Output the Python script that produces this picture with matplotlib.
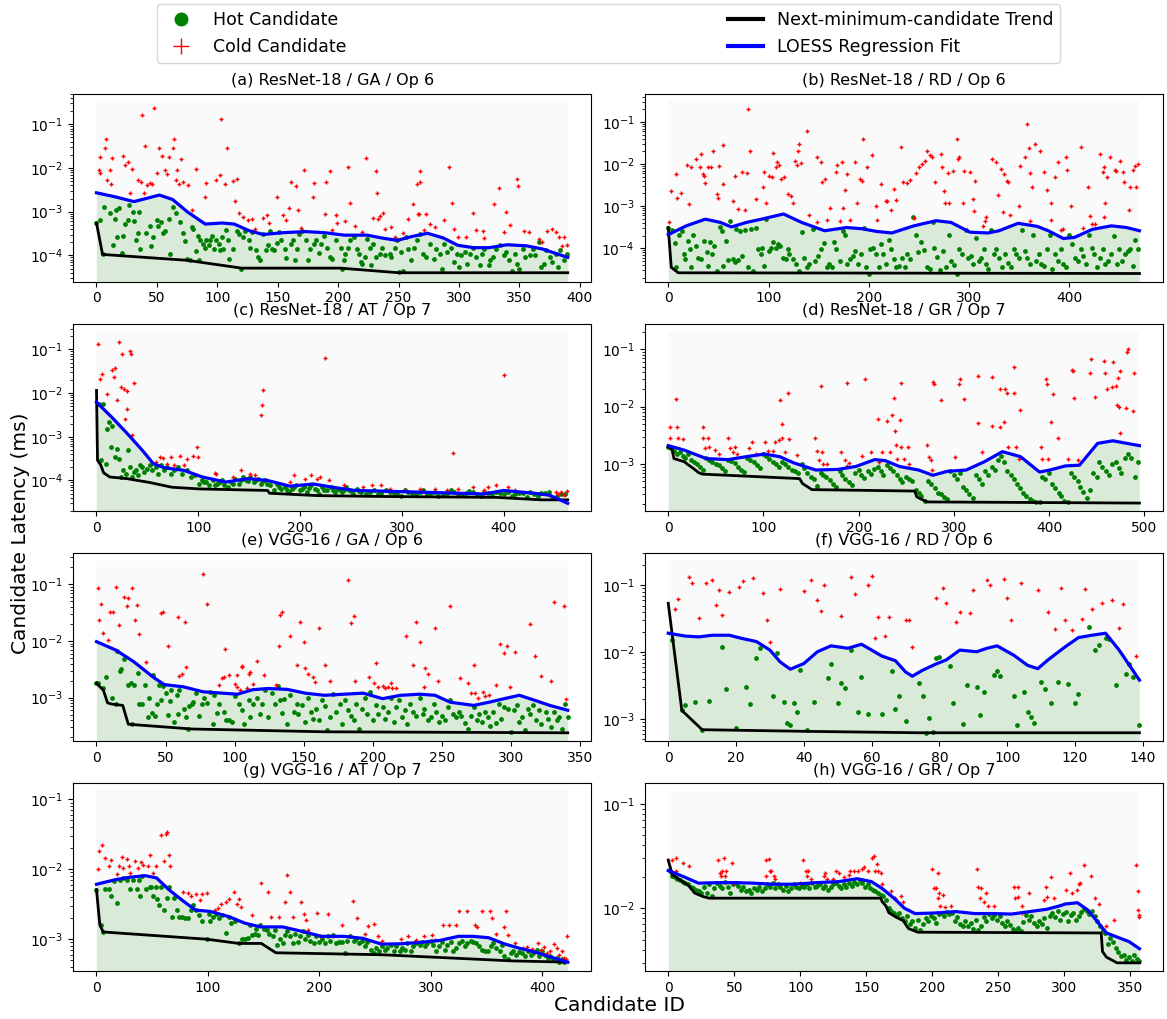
import numpy as np
import matplotlib.pyplot as plt
from matplotlib.lines import Line2D

# Valores: pares (candidate id, latencia en ms)

# (a) ResNet-18 / GA / Op 6
a_hot = [(0, 5.5e-4), (3, 6.5e-4), (5, 1.05e-4), (6, 1.3e-3), (11, 9.5e-4), (14, 1.7e-4), (15, 6.7e-4), (16, 1.1e-3),
         (17, 2.7e-4), (19, 1.2e-3), (21, 1.15e-4), (22, 2.8e-4), (24, 5.2e-4), (26, 6.3e-4), (27, 1.4e-3), (30, 1.0e-3),
         (31, 6e-4), (33, 2.3e-4), (34, 3.3e-4), (35, 1.0e-3), (36, 1.4e-4), (41, 3.3e-4), (44, 4.6e-4), (45, 1.6e-4),
         (47, 2.7e-4), (50, 6.5e-4), (51, 4.8e-4), (53, 5.8e-4), (55, 3.3e-4), (57, 3.7e-4), (60, 6.9e-4), (61, 1.05e-4),
         (63, 1.3e-3), (66, 9.3e-4), (69, 5.8e-4), (72, 3.2e-4), (73, 2.1e-4), (75, 8.3e-5), (77, 7.9e-5), (79, 4.5e-4),
         (80, 4.1e-4), (82, 1.25e-4), (84, 2.8e-4), (85, 7.9e-5), (86, 2.2e-4), (88, 1.8e-4), (90, 1.5e-4), (91, 2.3e-4),
         (93, 1.7e-4), (94, 2.2e-4), (96, 2.8e-4), (97, 1.4e-4), (99, 2.2e-4), (101, 1.8e-4), (102, 1.3e-4), (104, 2.6e-4),
         (105, 1.4e-4), (107, 3.9e-4), (109, 2.2e-4), (110, 8.3e-5), (113, 1.4e-4), (116, 3.7e-4), (118, 3.1e-4), (120, 5e-5),
         (121, 2.6e-4), (123, 3.7e-4), (126, 2.2e-4), (127, 1.5e-4), (129, 3.4e-4), (132, 1.3e-4), (134, 9.3e-5), (135, 7.9e-5),
         (138, 3.1e-4), (140, 1.3e-4), (142, 1.7e-4), (144, 3.7e-4), (145, 1.4e-4), (147, 1.3e-4), (149, 1.9e-4), (151, 3.4e-4),
         (153, 2.2e-4), (156, 1.4e-4), (157, 8.9e-5), (161, 1.8e-4), (163, 2.2e-4), (164, 7.9e-5), (166, 1.4e-4), (168, 3.1e-4),
         (170, 3.7e-4), (173, 2.2e-4), (175, 8e-5), (177, 1.4e-4), (180, 1.8e-4), (182, 2.2e-4), (184, 1.15e-4), (186, 1.8e-4),
         (188, 2.8e-4), (191, 1.5e-4), (193, 9.3e-5), (195, 8.3e-5), (198, 2.2e-4), (202, 1.5e-4), (203, 5e-5), (205, 7.9e-5),
         (206, 1.1e-4), (208, 1.5e-4), (210, 2.2e-4), (213, 2.6e-4), (216, 1.4e-4), (217, 1.1e-4), (219, 7.1e-5), (220, 6.5e-5),
         (222, 9.3e-5), (224, 2.4e-4), (226, 1.5e-4), (227, 6e-5), (229, 1.8e-4), (231, 9.3e-5), (235, 1.1e-4), (236, 1.5e-4),
         (239, 1.0e-4), (243, 1.1e-4), (244, 9.3e-5), (247, 1.5e-4), (249, 2.2e-4), (250, 4.1e-5), (252, 1.2e-4), (254, 4.5e-5),
         (256, 2.7e-4), (258, 1.4e-4), (260, 7.7e-5), (263, 1.5e-4), (265, 2.2e-4), (268, 3.1e-4), (270, 1.1e-4), (273, 9.3e-5),
         (276, 1.8e-4), (279, 8.3e-5), (281, 1.4e-4), (284, 1.1e-4), (286, 5e-5), (288, 1.8e-4), (290, 1.2e-4), (293, 1.5e-4),
         (296, 7.1e-5), (298, 1.1e-4), (300, 5.4e-5), (302, 1.0e-4), (305, 1.2e-4), (307, 6.5e-5), (309, 1.1e-4), (312, 1.5e-4),
         (314, 9.3e-5), (317, 6e-5), (319, 1.1e-4), (321, 1.4e-4), (325, 6e-5), (326, 7.7e-5), (328, 9.3e-5), (331, 1.4e-4),
         (334, 1.7e-4), (337, 1.0e-4), (339, 1.2e-4), (341, 7.7e-5), (344, 4.5e-5), (346, 1.1e-4), (348, 6.5e-5), (350, 5e-5),
         (353, 1.4e-4), (355, 9.3e-5), (359, 1.0e-4), (361, 1.4e-4), (363, 1.0e-4), (366, 2.0e-4), (368, 5.4e-5), (370, 6.5e-5),
         (372, 1.3e-4), (375, 9.3e-5), (377, 7.1e-5), (380, 1.1e-4), (382, 5.4e-5), (384, 1.3e-4), (387, 7.7e-5), (389, 1.1e-4)]
a_cold = [(2, 9.1e-3), (3, 7.7e-3), (3, 1.8e-2), (7, 2.9e-2), (8, 4.7e-2), (9, 5.2e-3), (11, 9.1e-3), (12, 4.4e-3),
          (13, 1.7e-2), (22, 1.85e-2), (24, 1.2e-2), (26, 1.4e-2), (28, 2.7e-3), (29, 9.7e-3), (34, 5.2e-3), (37, 4.8e-3),
          (38, 1.6e-1), (39, 2.7e-3), (40, 3.2e-2), (42, 4e-3), (44, 4.5e-3), (46, 4.4e-3), (48, 0.23), (50, 7.6e-3),
          (52, 2.9e-2), (54, 1.85e-2), (57, 8.8e-3), (58, 7.4e-3), (60, 1.8e-2), (63, 2.9e-2), (64, 4.7e-2), (66, 5.2e-3),
          (67, 9.1e-3), (68, 4.4e-3), (70, 1.6e-2), (72, 4.8e-3), (76, 4e-3), (79, 1.1e-3), (82, 9.7e-3), (90, 2.2e-3),
          (91, 4.5e-3), (99, 5.2e-3), (102, 6.8e-3), (103, 0.13), (106, 4.2e-3), (108, 2.9e-2), (113, 5e-3), (115, 1.8e-3),
          (116, 5.7e-3), (118, 9.5e-4), (121, 7.5e-4), (125, 6.3e-4), (129, 6.7e-4), (131, 4.1e-4), (138, 7.2e-4), (141, 8.3e-4),
          (143, 5.5e-4), (149, 2.2e-3), (154, 8.3e-4), (157, 6.3e-4), (159, 1.2e-3), (161, 4.8e-3), (165, 3.9e-3), (167, 1.1e-3),
          (169, 4.2e-4), (172, 8.8e-3), (179, 2.2e-3), (180, 4.5e-3), (189, 9e-4), (190, 4.8e-3), (193, 8.6e-3), (195, 3.9e-4),
          (198, 8.3e-4), (199, 5.5e-4), (206, 6e-4), (208, 1.05e-2), (210, 1.6e-3), (214, 4.6e-4), (220, 3.4e-4), (223, 1.7e-2),
          (229, 7.2e-4), (231, 8.4e-3), (232, 2.7e-3), (233, 6.9e-4), (235, 7.8e-4), (237, 9.5e-4), (239, 4.1e-4), (244, 4.5e-4),
          (247, 2.7e-4), (254, 3.2e-4), (258, 6.7e-4), (262, 1.5e-3), (265, 4.2e-3), (266, 9e-4), (267, 9e-4), (268, 8.6e-3),
          (268, 4.8e-3), (271, 3.9e-4), (273, 8.7e-4), (276, 5.3e-4), (280, 4.5e-4), (288, 6.3e-4), (292, 1.05e-2), (294, 1.6e-3),
          (296, 4.1e-4), (299, 2.6e-4), (306, 2.6e-4), (312, 9.3e-4), (314, 3.9e-4), (320, 3.7e-4), (321, 2.5e-4), (329, 1.5e-3),
          (333, 3.5e-3), (337, 3.5e-4), (339, 1.0e-3), (342, 5e-4), (348, 5.7e-3), (349, 3.8e-3), (354, 3.7e-4), (358, 3.4e-4),
          (366, 2.4e-4), (369, 2e-4), (373, 3.7e-4), (377, 4.1e-4), (380, 3.4e-4), (383, 2.6e-4), (385, 1.6e-4), (387, 2.7e-4),
          (389, 1.7e-4)]
a_trend = [(0, 5.5e-4), (5, 1.05e-4), (75, 7.7e-5), (120, 5.1e-5), (202, 5.1e-5), (250, 4.0e-5), (390, 4.0e-5)]
a_loess = [(0, 2.7e-3), (15, 2.2e-3), (31, 1.7e-3), (41, 2.0e-3), (52, 2.4e-3), (63, 1.9e-3), (75, 1.0e-3), (90, 5.2e-4),
           (104, 5.5e-4), (114, 5.2e-4), (126, 3.7e-4), (138, 3.0e-4), (154, 3.3e-4), (173, 3.5e-4), (189, 3.3e-4),
           (205, 2.9e-4), (224, 2.9e-4), (236, 2.5e-4), (249, 2.2e-4), (261, 2.7e-4), (274, 3.2e-4), (287, 2.5e-4),
           (299, 1.7e-4), (312, 1.5e-4), (325, 1.5e-4), (340, 1.75e-4), (356, 1.65e-4), (369, 1.4e-4), (390, 9e-5)]

# (b) ResNet-18 / RD / Op 6
b_hot = [(0, 3.1e-4), (4, 2.7e-4), (7, 1.3e-4), (8, 3.5e-5), (11, 2.1e-4), (14, 2.6e-4), (16, 7.2e-5), (17, 5.5e-5),
         (20, 1.5e-4), (22, 9.5e-5), (23, 3.5e-5), (25, 2.1e-4), (28, 1.1e-4), (30, 6e-5), (33, 5.5e-5), (36, 1.5e-4),
         (39, 8e-5), (40, 3.7e-5), (42, 1.4e-4), (44, 7.2e-5), (46, 1.1e-4), (49, 2.9e-5), (52, 3.2e-4), (54, 2.6e-4),
         (55, 3.8e-5), (58, 1.5e-4), (60, 5.2e-5), (62, 4.5e-4), (65, 5.5e-5), (67, 4.7e-5), (68, 2.8e-4), (70, 5.3e-5),
         (72, 2.6e-4), (74, 6.6e-5), (77, 2.7e-4), (80, 3.5e-5), (83, 2.8e-4), (85, 2.9e-5), (88, 3.1e-4), (90, 9.5e-5),
         (93, 7.2e-5), (94, 1.0e-4), (96, 3.8e-5), (98, 4.9e-4), (100, 8.6e-5), (102, 1.0e-4), (104, 1.4e-4), (107, 1.0e-4),
         (109, 1.25e-4), (111, 1.1e-4), (114, 6e-5), (117, 5.5e-5), (119, 9.5e-5), (120, 7.2e-5), (124, 5.5e-5), (127, 4.2e-5),
         (130, 2.9e-5), (133, 2.4e-4), (135, 6e-5), (138, 3.5e-5), (140, 4.2e-5), (144, 2.8e-4), (146, 5e-5), (149, 6.6e-5),
         (152, 9.5e-5), (155, 1.3e-4), (158, 3.5e-5), (160, 4.2e-5), (163, 3.5e-5), (165, 1.4e-4), (167, 9.5e-5), (171, 5e-5),
         (174, 2.6e-4), (176, 2.1e-4), (178, 4.2e-5), (181, 5.5e-5), (184, 6.6e-5), (186, 8.6e-5), (189, 4.2e-5), (192, 7.2e-5),
         (195, 3.1e-4), (197, 3.5e-5), (200, 2.5e-5), (201, 9.5e-5), (204, 1.0e-4), (207, 7.2e-5), (210, 3.5e-5), (212, 1.25e-4),
         (214, 7.2e-5), (217, 4.2e-5), (220, 1.6e-4), (222, 9.5e-5), (225, 5.5e-5), (227, 3.5e-5), (230, 3.8e-5), (233, 6e-5),
         (236, 3.5e-5), (238, 7.2e-5), (241, 5.5e-5), (244, 5.4e-4), (247, 2.1e-4), (249, 7.9e-5), (252, 1.4e-4), (255, 9e-5),
         (258, 3.5e-5), (261, 3.2e-5), (264, 4.1e-4), (265, 1.0e-4), (268, 6.3e-5), (271, 3e-5), (274, 8.6e-5), (277, 3.5e-5),
         (280, 2.1e-4), (282, 5e-5), (285, 4e-5), (288, 2.4e-5), (290, 9.5e-5), (293, 7.2e-5), (297, 2.7e-4), (299, 6e-5),
         (302, 6.6e-5), (304, 4.2e-5), (307, 1.7e-4), (310, 5e-5), (312, 6e-5), (315, 9.5e-5), (317, 4.2e-5), (319, 3.2e-5),
         (322, 2.7e-4), (325, 7.2e-5), (327, 9.5e-5), (330, 6e-5), (333, 3.5e-5), (336, 7.2e-5), (339, 4.5e-5), (342, 3.5e-5),
         (345, 9.5e-5), (347, 7.2e-5), (350, 6e-5), (353, 2.7e-4), (356, 8.6e-5), (358, 6e-5), (361, 4.2e-5), (364, 2.1e-4),
         (367, 5e-5), (370, 7.2e-5), (372, 4.2e-5), (375, 3.8e-5), (378, 9.5e-5), (381, 2.1e-4), (383, 3.2e-5), (386, 7.2e-5),
         (389, 5e-5), (392, 9.5e-5), (394, 4.2e-5), (397, 3.5e-5), (400, 2.1e-4), (403, 1.25e-4), (406, 6e-5), (409, 5e-5),
         (412, 9.5e-5), (414, 6.6e-5), (417, 4.2e-5), (420, 2.1e-4), (423, 1.0e-4), (425, 7.2e-5), (428, 3.5e-5), (431, 6e-5),
         (434, 9.5e-5), (436, 4.2e-5), (439, 5e-5), (442, 7.2e-5), (445, 2e-4), (448, 4.2e-5), (450, 9.5e-5), (453, 5e-5),
         (456, 7.2e-5), (459, 8.6e-5), (461, 9.5e-5), (464, 3.8e-5), (466, 1.6e-4), (469, 9.5e-5)]
b_cold = [(1, 4.1e-4), (3, 2.3e-3), (8, 5.9e-3), (9, 1.6e-3), (13, 2.1e-3), (19, 9.7e-3), (21, 1.1e-3), (23, 8.7e-3),
          (28, 1.3e-2), (32, 8.7e-3), (33, 1.7e-2), (35, 5.9e-3), (36, 5.3e-3), (37, 3.5e-3), (40, 8.4e-3), (43, 8.4e-3),
          (45, 2.1e-2), (49, 1.9e-3), (50, 1.6e-3), (51, 9.2e-3), (55, 2.9e-2), (55, 3.4e-3), (65, 1.3e-3), (67, 5.3e-3),
          (70, 8.5e-4), (74, 6.4e-3), (77, 8e-4), (79, 6e-3), (80, 0.2), (82, 2e-2), (88, 1.5e-3), (95, 2.8e-3),
          (96, 6.4e-3), (98, 1.2e-3), (100, 5.3e-3), (103, 4.8e-3), (104, 1.8e-2), (107, 8.4e-3), (108, 1.1e-2), (110, 9.6e-3),
          (112, 4.5e-3), (115, 4.8e-3), (119, 1.9e-3), (122, 1.7e-3), (124, 1.2e-3), (126, 1.2e-2), (128, 9.6e-3), (129, 2.1e-2),
          (130, 3e-2), (132, 1.05e-2), (138, 0.06), (140, 6e-4), (148, 4.1e-4), (148, 1.5e-2), (152, 1.1e-2), (153, 3.7e-3),
          (156, 4.5e-3), (158, 4.7e-4), (161, 8.9e-4), (167, 6.6e-3), (168, 9.6e-3), (171, 4.4e-4), (173, 1.1e-2), (174, 8.9e-4),
          (176, 2.4e-3), (178, 5.9e-3), (181, 4.6e-4), (186, 1.1e-2), (188, 1.2e-3), (191, 4.3e-3), (193, 4e-3), (194, 4e-2),
          (198, 8.4e-3), (203, 1.6e-2), (207, 1e-3), (208, 4.7e-4), (212, 3.3e-3), (217, 1.3e-3), (218, 1.35e-3), (222, 8.2e-4),
          (225, 2.6e-3), (227, 1.4e-3), (232, 2.5e-2), (234, 3.7e-3), (238, 3.5e-3), (241, 4.2e-3), (245, 5.2e-4), (247, 6e-3),
          (250, 8.7e-3), (253, 1e-2), (256, 1.2e-2), (258, 2.1e-2), (261, 1.6e-2), (263, 1.5e-2), (266, 3.7e-3), (272, 1.7e-2),
          (273, 8.4e-3), (275, 2.3e-3), (276, 1.2e-3), (279, 6.2e-3), (280, 1.2e-3), (284, 6.8e-3), (288, 4e-2), (289, 1.3e-2),
          (290, 1.5e-2), (294, 1.2e-3), (295, 7e-3), (301, 6.4e-3), (304, 1.5e-3), (305, 7.8e-4), (306, 4e-3), (314, 3.3e-4),
          (316, 4.4e-4), (317, 5.6e-4), (323, 1.3e-2), (327, 1.1e-2), (329, 1.8e-3), (332, 7.7e-3), (334, 7.1e-4), (335, 5.9e-3),
          (338, 4e-3), (339, 3.7e-3), (341, 6e-4), (350, 1e-3), (351, 8.9e-3), (356, 1.5e-2), (358, 9e-2), (360, 2.4e-2),
          (361, 6.2e-3), (363, 2.8e-3), (361, 4.4e-4), (366, 3e-2), (371, 2e-2), (375, 6.4e-3), (378, 2.4e-3), (382, 1.2e-3),
          (382, 4.7e-4), (386, 5e-3), (389, 1.1e-2), (392, 2.7e-4), (394, 2.8e-4), (397, 1.5e-2), (398, 7.2e-3), (402, 1e-3),
          (412, 2.5e-2), (414, 3e-4), (419, 2.8e-3), (421, 5.8e-4), (423, 3.8e-4), (426, 3.8e-4), (431, 1.7e-2), (434, 6.4e-3),
          (435, 8.4e-3), (436, 1.2e-3), (438, 4.8e-3), (435, 5.4e-4), (441, 1.5e-2), (446, 7.4e-3), (447, 7e-3), (451, 1.2e-2),
          (454, 6.6e-3), (455, 3.8e-3), (460, 8e-4), (461, 2.8e-3), (464, 7.2e-3), (466, 9.2e-3), (467, 2.9e-3), (469, 1e-2)]
b_trend = [(0, 3.1e-4), (3, 3.5e-5), (10, 2.6e-5), (470, 2.5e-5)]
b_loess = [(0, 2.1e-4), (18, 3.4e-4), (37, 4.9e-4), (52, 4.1e-4), (63, 3.2e-4), (78, 4.1e-4), (93, 4.9e-4), (115, 6.5e-4),
           (133, 4.1e-4), (156, 2.6e-4), (178, 3.1e-4), (193, 2.9e-4), (208, 2.5e-4), (223, 2.3e-4), (245, 3.4e-4),
           (267, 4.5e-4), (282, 4.1e-4), (301, 2.4e-4), (319, 2.3e-4), (330, 2.6e-4), (349, 3.9e-4), (368, 3.3e-4),
           (379, 2.6e-4), (394, 1.7e-4), (405, 1.8e-4), (423, 2.8e-4), (442, 3.4e-4), (457, 3.1e-4), (470, 2.6e-4)]

# (c) ResNet-18 / AT / Op 7
c_hot = [(2, 5.5e-3), (4, 3e-4), (6, 5.5e-3), (9, 2.4e-4), (10, 1.5e-3), (12, 2.2e-3), (14, 5.8e-4), (15, 1.8e-3),
         (18, 3.4e-4), (20, 5.3e-4), (22, 3.1e-4), (24, 1.2e-4), (26, 1.7e-4), (29, 1.4e-4), (31, 4.9e-4), (33, 2e-4),
         (35, 1.2e-4), (37, 1.55e-4), (39, 1.75e-4), (41, 1.3e-4), (43, 2.3e-4), (45, 2e-4), (47, 1.55e-4), (50, 1.8e-4),
         (53, 2.3e-4), (55, 1.7e-4), (58, 2e-4), (60, 1.4e-4), (63, 2.2e-4), (66, 1.7e-4), (69, 2e-4), (73, 1.4e-4),
         (76, 1.7e-4), (80, 2e-4), (84, 1.4e-4), (89, 1.7e-4), (93, 1.2e-4), (97, 1.3e-4), (101, 8.3e-5), (104, 1e-4),
         (106, 9e-5), (108, 9.2e-5), (111, 7.7e-5), (114, 1e-4), (116, 8e-5), (118, 8.3e-5), (121, 9.2e-5), (123, 1e-4),
         (125, 7.7e-5), (129, 7e-5), (132, 9.2e-5), (134, 8.5e-5), (136, 1.1e-4), (140, 8.3e-5), (142, 1.05e-4), (144, 1.2e-4),
         (147, 1e-4), (149, 9.5e-5), (151, 1.2e-4), (155, 9.2e-5), (157, 1.05e-4), (159, 1.1e-4), (162, 8.3e-5), (164, 9.5e-5),
         (166, 1e-4), (168, 8.5e-5), (170, 7.7e-5), (174, 5.9e-5), (177, 8.3e-5), (179, 7.2e-5), (181, 6.4e-5), (185, 7e-5),
         (187, 6.2e-5), (189, 5.4e-5), (192, 6.4e-5), (194, 7e-5), (196, 7.7e-5), (200, 5.9e-5), (202, 6.5e-5), (204, 7e-5),
         (207, 5.4e-5), (209, 6.8e-5), (211, 7.7e-5), (215, 6.4e-5), (217, 6e-5), (219, 5e-5), (222, 7e-5), (224, 6.2e-5),
         (226, 5.9e-5), (230, 7e-5), (232, 6.2e-5), (234, 5.4e-5), (237, 6.4e-5), (239, 6e-5), (241, 5.4e-5), (243, 6.2e-5),
         (245, 7e-5), (248, 5.9e-5), (250, 5.6e-5), (252, 5e-5), (256, 6.4e-5), (258, 5.8e-5), (260, 5.4e-5), (265, 5e-5),
         (269, 5.4e-5), (273, 5.9e-5), (277, 4.8e-5), (280, 5.1e-5), (284, 5.9e-5), (288, 5.4e-5), (292, 5.1e-5), (295, 4.8e-5),
         (299, 4.5e-5), (303, 5.9e-5), (306, 5.4e-5), (310, 5.1e-5), (314, 4.8e-5), (318, 5.4e-5), (321, 5.9e-5), (325, 4.8e-5),
         (329, 5.1e-5), (333, 5.4e-5), (336, 4.5e-5), (340, 5e-5), (344, 5.1e-5), (348, 5.9e-5), (351, 5.4e-5), (355, 4.8e-5),
         (359, 5e-5), (363, 5.1e-5), (366, 5.7e-5), (370, 5.4e-5), (374, 4.8e-5), (378, 4.5e-5), (381, 5.4e-5), (385, 5.1e-5),
         (389, 4.8e-5), (393, 5.4e-5), (396, 5.1e-5), (400, 5e-5), (404, 5.4e-5), (408, 4.5e-5), (411, 4.8e-5), (415, 5.1e-5),
         (419, 5.1e-5), (423, 4.1e-5), (426, 5.4e-5), (430, 4.8e-5), (434, 4.5e-5), (437, 5.1e-5), (441, 5.1e-5), (445, 5.4e-5),
         (449, 4e-5), (452, 4.5e-5), (456, 4.8e-5), (460, 5e-5)]
c_cold = [(1, 0.13), (3, 2.1e-2), (5, 2.8e-2), (10, 9.6e-3), (15, 3.3e-2), (17, 2.3e-2), (18, 3.8e-2), (20, 7e-3),
          (22, 0.15), (24, 1.4e-2), (25, 8e-2), (27, 1.25e-2), (28, 2.6e-3), (30, 1.1e-2), (30, 4.4e-3), (33, 9e-2),
          (34, 8e-2), (35, 1.1e-3), (37, 1.7e-2), (58, 2.6e-4), (62, 3.4e-4), (65, 3.2e-4), (69, 2.4e-4), (73, 3.4e-4),
          (76, 2.2e-4), (82, 3.7e-4), (86, 2.2e-4), (89, 3.1e-4), (95, 3.7e-4), (99, 5.8e-4), (100, 3.4e-4), (116, 1.5e-4),
          (117, 1.4e-4), (134, 1.2e-4), (142, 1.7e-4), (151, 1.4e-4), (156, 1.3e-4), (162, 3.1e-3), (163, 5.2e-3), (164, 1.2e-2),
          (190, 9.2e-5), (194, 1.3e-4), (205, 1.1e-4), (211, 1.3e-4), (217, 1.1e-4), (220, 1.2e-4), (225, 6.3e-2), (228, 1e-4),
          (243, 7.7e-5), (262, 7e-5), (271, 7.7e-5), (280, 7.7e-5), (288, 6.4e-5), (303, 5.9e-5), (318, 6.4e-5), (333, 6.4e-5),
          (344, 6.1e-5), (350, 4.2e-4), (355, 6.4e-5), (370, 7e-5), (381, 6.2e-5), (385, 7.2e-5), (393, 7.7e-5), (400, 2.6e-2),
          (404, 7e-5), (411, 5.9e-5), (445, 4.6e-5), (451, 5.4e-5), (453, 5e-5), (456, 5.4e-5), (459, 4.6e-5), (462, 5.6e-5)]
c_trend = [(0, 1.15e-2), (1, 2.9e-4), (4, 2.3e-4), (7, 1.5e-4), (13, 1.2e-4), (30, 1.1e-4), (52, 9e-5), (74, 7e-5),
           (101, 6.4e-5), (168, 5.9e-5), (170, 5.1e-5), (217, 4.5e-5), (280, 4.3e-5), (393, 4.1e-5), (437, 3.6e-5),
           (463, 3.6e-5)]
c_loess = [(0, 6.2e-3), (15, 2.8e-3), (30, 1.2e-3), (45, 4.9e-4), (56, 2.4e-4), (67, 1.95e-4), (86, 1.7e-4), (104, 1.2e-4),
           (127, 9.2e-5), (149, 1.1e-4), (168, 1.0e-4), (190, 7.4e-5), (213, 8.3e-5), (232, 7e-5), (254, 5.9e-5),
           (280, 5.7e-5), (318, 5.4e-5), (355, 5.1e-5), (381, 4.9e-5), (400, 5.9e-5), (430, 5.1e-5), (445, 4.6e-5),
           (463, 3e-5)]

# (d) ResNet-18 / GR / Op 7
d_hot = [(0, 2e-3), (3, 1.9e-3), (6, 1.7e-3), (9, 1.5e-3), (12, 1.6e-3), (15, 1.4e-3), (18, 1.3e-3), (21, 1.5e-3),
         (24, 1.2e-3), (27, 1.1e-3), (30, 1.0e-3), (33, 9e-4), (36, 8e-4), (40, 1.3e-3), (43, 1.2e-3), (46, 1.1e-3),
         (50, 1.0e-3), (53, 9.5e-4), (56, 8.5e-4), (60, 7.5e-4), (63, 1.2e-3), (66, 1.15e-3), (70, 1.05e-3), (73, 9e-4),
         (76, 8e-4), (80, 7.2e-4), (83, 1.3e-3), (86, 1.2e-3), (90, 1.1e-3), (93, 9.5e-4), (96, 8.5e-4), (100, 1.5e-3),
         (103, 1.4e-3), (106, 1.25e-3), (110, 1.1e-3), (113, 1e-3), (116, 9e-4), (120, 1.1e-3), (123, 1.0e-3), (126, 9e-4),
         (130, 8e-4), (133, 7.5e-4), (136, 7e-4), (140, 1e-3), (143, 8.5e-4), (146, 7e-4), (150, 6e-4), (153, 5.5e-4),
         (156, 4.2e-4), (160, 7e-4), (163, 6.5e-4), (166, 6e-4), (170, 5.2e-4), (173, 4.5e-4), (176, 4e-4), (180, 7.5e-4),
         (183, 6.5e-4), (186, 5.5e-4), (190, 4.8e-4), (193, 4.3e-4), (196, 7e-4), (200, 8e-4), (203, 6.5e-4), (206, 5.8e-4),
         (210, 7.5e-4), (213, 6.8e-4), (216, 8.2e-4), (220, 9e-4), (223, 7.5e-4), (226, 6.5e-4), (230, 9.5e-4), (233, 8.5e-4),
         (236, 7.5e-4), (240, 6.5e-4), (243, 5.5e-4), (246, 4.8e-4), (250, 6e-4), (253, 5.5e-4), (256, 5e-4), (260, 3.5e-4),
         (263, 3.2e-4), (266, 2.8e-4), (270, 2.3e-4), (273, 5e-4), (276, 4.5e-4), (280, 3.8e-4), (283, 3.2e-4), (286, 3e-4),
         (290, 2.7e-4), (293, 2.5e-4), (296, 7.5e-4), (300, 6.5e-4), (303, 5.5e-4), (306, 7e-4), (310, 4e-4), (313, 3.5e-4),
         (316, 3e-4), (320, 2.6e-4), (323, 6.5e-4), (326, 5.5e-4), (330, 4.5e-4), (333, 7.5e-4), (336, 6.5e-4), (340, 9e-4),
         (343, 8e-4), (346, 1.2e-3), (350, 1.4e-3), (353, 1.1e-3), (356, 7.5e-4), (360, 6.5e-4), (363, 5.5e-4), (366, 4.5e-4),
         (370, 3.8e-4), (373, 3.2e-4), (376, 2.8e-4), (380, 2.5e-4), (383, 2.3e-4), (386, 2.2e-4), (390, 2.2e-4), (393, 6e-4),
         (396, 5.5e-4), (400, 7e-4), (403, 4.5e-4), (406, 3.8e-4), (410, 3.2e-4), (413, 2.8e-4), (416, 2.3e-4), (420, 2.2e-4),
         (423, 7e-4), (426, 6e-4), (430, 5e-4), (433, 4e-4), (436, 3.3e-4), (440, 2.6e-4), (443, 3.5e-4), (446, 7e-4),
         (450, 6e-4), (453, 1.1e-3), (456, 9e-4), (460, 7.5e-4), (463, 6.5e-4), (466, 1.0e-3), (470, 1.1e-3), (473, 8.5e-4),
         (476, 7e-4), (480, 1.3e-3), (483, 1.5e-3), (486, 1.3e-3), (490, 6e-4), (493, 1.1e-3)]
d_cold = [(2, 4.5e-3), (2, 2.8e-3), (8, 1.35e-2), (9, 4.5e-3), (10, 2.8e-3), (16, 2.7e-3), (36, 4.5e-3), (37, 2.8e-3),
          (39, 1.9e-3), (42, 2.8e-3), (43, 2e-3), (49, 1.75e-3), (53, 1.5e-3), (63, 2.8e-3), (65, 1.9e-3), (68, 1.65e-3),
          (70, 2e-3), (72, 1.5e-3), (85, 1.9e-3), (88, 2.4e-3), (92, 1.5e-3), (102, 2.4e-3), (105, 1.7e-3), (110, 1.7e-3),
          (112, 2.4e-3), (116, 2.6e-3), (117, 1.3e-2), (119, 5e-3), (120, 2.8e-3), (123, 1.65e-3), (126, 1.75e-2), (127, 2.7e-3),
          (135, 1.45e-3), (154, 2.8e-3), (156, 1.7e-3), (158, 1.2e-3), (160, 2.3e-2), (161, 1.65e-3), (163, 1e-3), (167, 1e-3),
          (181, 1.65e-3), (186, 1.2e-3), (188, 9.3e-4), (188, 2.6e-2), (190, 1.05e-3), (204, 1.4e-3), (207, 3e-2), (213, 1.6e-3),
          (220, 6e-3), (221, 1.1e-3), (225, 1.6e-3), (230, 5.7e-3), (233, 1.65e-3), (235, 7.2e-3), (237, 1.4e-2), (238, 3.8e-3),
          (239, 2.15e-3), (240, 1.25e-3), (243, 5.8e-3), (244, 2.6e-2), (245, 1.95e-3), (248, 1.25e-3), (252, 2e-3), (253, 1e-3),
          (272, 2.15e-3), (274, 1.35e-3), (276, 1.2e-3), (277, 7.9e-4), (278, 2.7e-2), (279, 2.5e-2), (286, 1.3e-2), (301, 1.35e-3),
          (305, 2.5e-2), (306, 3e-2), (311, 1.35e-2), (325, 3.4e-2), (325, 5.1e-3), (330, 1.6e-3), (340, 3.3e-2), (340, 4.6e-3),
          (349, 2e-2), (348, 4.5e-3), (353, 5.5e-3), (354, 2e-2), (356, 1.75e-2), (357, 2e-3), (363, 1.75e-2), (363, 5e-2),
          (365, 2e-3), (370, 8.7e-3), (368, 1.25e-3), (392, 2e-3), (393, 1.25e-3), (397, 3e-2), (398, 2.5e-2), (399, 1.25e-3),
          (402, 5.5e-3), (404, 1.65e-2), (409, 2.9e-3), (420, 1.25e-3), (426, 1.4e-2), (425, 4.1e-2), (424, 4.3e-2), (430, 1.2e-3),
          (443, 3.8e-2), (444, 6.7e-2), (448, 1.5e-2), (459, 3.8e-2), (458, 6.3e-2), (461, 2e-2), (466, 2.2e-2), (467, 5.9e-2),
          (470, 2.3e-2), (471, 1.05e-2), (472, 3.1e-2), (474, 1e-2), (475, 4.2e-2), (475, 3.5e-3), (481, 9.4e-3), (482, 8.8e-2),
          (483, 0.1), (489, 3.8e-2), (488, 8.5e-3)]
d_trend = [(0, 2e-3), (4, 1.8e-3), (6, 1.25e-3), (17, 1.1e-3), (20, 1e-3), (26, 8.5e-4), (32, 7.1e-4), (36, 6.7e-4),
           (138, 5.6e-4), (141, 4.6e-4), (151, 3.6e-4), (259, 3.4e-4), (261, 2.7e-4), (267, 2.4e-4), (272, 2.2e-4),
           (495, 2.1e-4)]
d_loess = [(0, 2.1e-3), (17, 1.75e-3), (40, 1.25e-3), (63, 1.2e-3), (82, 1.35e-3), (101, 1.5e-3), (117, 1.35e-3),
           (132, 1.05e-3), (155, 7.9e-4), (178, 8.1e-4), (197, 9.1e-4), (217, 1.2e-3), (228, 1.15e-3), (243, 9.1e-4),
           (263, 7.9e-4), (278, 6.4e-4), (293, 7.5e-4), (313, 7.9e-4), (332, 1.1e-3), (351, 1.65e-3), (370, 1.35e-3),
           (390, 7.3e-4), (401, 7.9e-4), (417, 9.3e-4), (432, 9.6e-4), (451, 2.3e-3), (467, 2.55e-3), (495, 2.1e-3)]

# (e) VGG-16 / GA / Op 6
e_hot = [(0, 1.8e-3), (1, 1.8e-3), (5, 1.45e-3), (7, 2.3e-3), (11, 1.0e-3), (14, 7.8e-4), (15, 6.7e-3), (17, 3e-3),
         (18, 3.2e-3), (20, 4.8e-3), (23, 1.7e-3), (25, 1.8e-3), (26, 3.5e-4), (27, 1.7e-3), (30, 2.7e-3), (31, 7.6e-4),
         (33, 7.6e-4), (35, 1.7e-3), (37, 4.5e-4), (38, 1e-3), (40, 5.3e-4), (41, 2.5e-3), (42, 4.8e-4), (44, 7.8e-4),
         (45, 1.7e-3), (47, 9e-4), (48, 1.6e-3), (50, 1.2e-3), (52, 5e-4), (53, 8.8e-4), (54, 1.35e-3), (56, 3.7e-4),
         (58, 1.1e-3), (59, 5.2e-4), (60, 1.35e-3), (63, 6.4e-4), (65, 4.5e-4), (66, 2.8e-4), (67, 7e-4), (69, 7.8e-4),
         (70, 8.4e-4), (72, 1.2e-3), (74, 4.8e-4), (76, 7.6e-4), (78, 1e-3), (80, 8.1e-4), (82, 1.25e-3), (84, 3.4e-4),
         (85, 1.1e-3), (87, 5.3e-4), (89, 7.8e-4), (92, 5.5e-4), (94, 4e-4), (96, 4.1e-4), (98, 3.7e-4), (100, 1.05e-3),
         (103, 7.8e-4), (105, 6e-4), (107, 3.4e-4), (110, 9e-4), (111, 4.5e-4), (113, 7.6e-4), (116, 1e-3), (118, 5.2e-4),
         (120, 7.8e-4), (122, 1.35e-3), (124, 4.5e-4), (127, 1.2e-3), (129, 7.8e-4), (131, 1.6e-3), (133, 9e-4), (134, 5.3e-4),
         (136, 9.5e-4), (138, 3.5e-4), (140, 1.1e-3), (143, 5.5e-4), (145, 7.8e-4), (146, 5.2e-4), (149, 7.4e-4), (151, 3.7e-4),
         (153, 1e-3), (155, 5.5e-4), (157, 4.2e-4), (159, 6.4e-4), (161, 4e-4), (163, 9e-4), (165, 7e-4), (167, 2.7e-4),
         (169, 4.5e-4), (171, 1.15e-3), (173, 5.5e-4), (176, 7.8e-4), (178, 3.5e-4), (180, 9e-4), (182, 6e-4), (184, 4.8e-4),
         (186, 4e-4), (188, 7.8e-4), (190, 2.8e-4), (192, 6.4e-4), (194, 1e-3), (196, 5.2e-4), (198, 1.25e-3), (200, 4e-4),
         (202, 7.4e-4), (204, 5.2e-4), (207, 6.8e-4), (209, 4.2e-4), (211, 5.5e-4), (213, 1e-3), (215, 3.7e-4), (217, 6.8e-4),
         (219, 9e-4), (221, 4.5e-4), (223, 6e-4), (225, 3.5e-4), (227, 7.8e-4), (229, 5.5e-4), (231, 4.8e-4), (234, 1e-3),
         (236, 5.2e-4), (237, 6.4e-4), (240, 4e-4), (242, 4.5e-4), (244, 7.8e-4), (246, 5.5e-4), (248, 3.7e-4), (250, 4.8e-4),
         (252, 4e-4), (254, 6.8e-4), (256, 9e-4), (258, 5.2e-4), (260, 4.5e-4), (262, 5.5e-4), (264, 4.8e-4), (267, 3.6e-4),
         (269, 2.8e-4), (271, 4.8e-4), (273, 6.8e-4), (275, 4e-4), (277, 5.2e-4), (279, 3.7e-4), (281, 5.5e-4), (283, 4.5e-4),
         (285, 3.2e-4), (287, 5.5e-4), (289, 3.6e-4), (291, 7.8e-4), (293, 4.2e-4), (295, 6.8e-4), (298, 6.4e-4), (300, 2.45e-4),
         (302, 6e-4), (304, 7.4e-4), (306, 3.7e-4), (308, 4.5e-4), (310, 2.7e-4), (312, 6.4e-4), (314, 5.2e-4), (316, 7.4e-4),
         (318, 4e-4), (320, 6e-4), (322, 3.5e-4), (325, 5.5e-4), (327, 4.2e-4), (329, 3e-4), (331, 5.5e-4), (333, 4e-4),
         (335, 4.5e-4), (337, 2.8e-4), (339, 7.8e-4), (341, 4.5e-4)]
e_cold = [(1, 0.085), (2, 2.3e-2), (3, 4.4e-2), (5, 1.4e-2), (8, 1.05e-2), (10, 3.3e-2), (12, 3.3e-2), (14, 9e-2),
          (16, 1.9e-2), (20, 5.9e-2), (22, 4.1e-2), (23, 5.7e-2), (26, 8.5e-2), (28, 2.3e-2), (29, 4.3e-2), (31, 1.35e-2),
          (36, 4.3e-3), (47, 3.1e-2), (48, 3.2e-2), (52, 8.1e-3), (59, 2.6e-2), (60, 2.4e-3), (62, 2.6e-3), (64, 2.2e-2),
          (65, 3.5e-3), (77, 0.15), (80, 4.5e-2), (89, 1.7e-3), (91, 2.2e-3), (92, 2.3e-3), (93, 7.1e-3), (96, 2.5e-3),
          (100, 1.75e-3), (102, 2.5e-3), (102, 1.55e-3), (104, 1.35e-3), (105, 3.5e-3), (105, 3.6e-3), (109, 1.5e-3), (110, 2.6e-3),
          (111, 2.8e-3), (113, 1.75e-3), (116, 4.4e-3), (121, 2.5e-3), (130, 1.65e-3), (132, 8.1e-3), (133, 2.9e-2), (134, 3.2e-2),
          (140, 1.2e-2), (145, 3.7e-3), (147, 2.2e-2), (150, 9.7e-3), (151, 3.3e-3), (153, 2.6e-3), (157, 2.3e-3), (158, 1.9e-3),
          (161, 1.7e-2), (165, 3.7e-3), (169, 2e-3), (182, 0.12), (184, 2.1e-2), (186, 2.8e-2), (187, 2e-3), (197, 2.3e-3),
          (201, 1.8e-3), (202, 4.1e-3), (204, 1.55e-3), (207, 1.6e-3), (209, 1.45e-3), (211, 1.55e-3), (213, 1.8e-3), (214, 1.45e-3),
          (217, 1.5e-3), (224, 1.2e-2), (229, 3.7e-3), (231, 2.2e-2), (234, 9.7e-3), (237, 1.55e-3), (238, 3.4e-3), (240, 2.6e-3),
          (245, 1.7e-2), (247, 2e-3), (256, 4.1e-2), (263, 2.2e-3), (269, 1.8e-3), (271, 1.2e-3), (273, 3.7e-3), (274, 1.2e-3),
          (276, 9.8e-4), (280, 1.25e-3), (281, 1.05e-3), (284, 1.1e-3), (289, 1.65e-3), (292, 8.8e-3), (295, 6.2e-3), (297, 8.1e-3),
          (299, 1.55e-3), (303, 6.4e-3), (314, 1.95e-2), (317, 5.5e-3), (322, 2.4e-3), (329, 2e-3), (331, 4.9e-2), (338, 4.1e-2),
          (340, 9.3e-4)]
e_trend = [(0, 1.8e-3), (2, 1.6e-3), (5, 1.35e-3), (8, 8.1e-4), (11, 7.7e-4), (19, 7.3e-4), (23, 3.4e-4), (69, 2.8e-4),
           (165, 2.5e-4), (341, 2.4e-4)]
e_loess = [(0, 9.7e-3), (14, 6.9e-3), (27, 4.3e-3), (41, 2.3e-3), (49, 1.7e-3), (63, 1.55e-3), (77, 1.27e-3), (91, 1.2e-3),
           (102, 1.15e-3), (113, 1.38e-3), (124, 1.45e-3), (138, 1.4e-3), (151, 1.2e-3), (165, 1.1e-3), (179, 1.15e-3),
           (193, 1.2e-3), (207, 9.6e-4), (220, 1.1e-3), (234, 1.15e-3), (245, 1.1e-3), (256, 8.3e-4), (273, 7.3e-4),
           (284, 8.3e-4), (295, 9.6e-4), (306, 1.1e-3), (317, 9e-4), (328, 7.3e-4), (341, 6e-4)]

# (f) VGG-16 / RD / Op 6
f_hot = [(1, 1.53e-2), (4, 1.36e-3), (5, 1.65e-3), (8, 1.8e-3), (10, 7e-4), (12, 1.85e-3), (16, 1.2e-2), (17, 2.8e-3),
         (20, 7.5e-4), (23, 3e-3), (24, 1.7e-3), (26, 8.1e-3), (27, 1.15e-2), (31, 2.2e-3), (32, 9.8e-3), (34, 1.8e-3),
         (35, 8.9e-4), (36, 8.1e-4), (37, 1.75e-3), (38, 1.3e-3), (39, 5.4e-3), (41, 7e-4), (43, 1.8e-3), (47, 4.1e-3),
         (48, 6.7e-3), (50, 1.75e-3), (51, 3.5e-3), (52, 2.9e-3), (54, 1.1e-2), (56, 1.3e-3), (57, 4.3e-3), (59, 1.2e-3),
         (63, 1.2e-3), (66, 5.3e-3), (67, 1.45e-3), (68, 2.2e-3), (70, 9.5e-4), (74, 3.5e-3), (75, 2.2e-3), (76, 6.3e-4),
         (77, 1.05e-3), (78, 6.5e-4), (79, 8.1e-3), (80, 8.6e-3), (83, 6.2e-3), (84, 1.75e-3), (87, 8.6e-4), (88, 3.2e-3),
         (91, 3e-3), (92, 1.15e-3), (93, 2.6e-3), (96, 4.6e-3), (97, 5.2e-3), (98, 4.5e-3), (102, 2.2e-3), (103, 8.3e-4),
         (105, 2.6e-3), (106, 1.3e-3), (107, 1.1e-3), (108, 8.8e-4), (110, 3.6e-3), (111, 2.8e-3), (113, 1.75e-3), (115, 3.6e-3),
         (118, 3.4e-3), (120, 1.75e-3), (121, 2.4e-3), (124, 2.4e-2), (126, 1.1e-2), (127, 1.27e-2), (129, 1.65e-2), (130, 1.6e-2),
         (132, 3.2e-3), (135, 4.7e-3), (136, 6.7e-3), (137, 4.3e-3), (139, 8.1e-4)]
f_cold = [(2, 4.4e-2), (3, 6.3e-2), (6, 0.133), (7, 0.108), (9, 3.3e-2), (11, 0.11), (13, 0.12), (14, 5.1e-2),
          (15, 8.4e-2), (16, 3.6e-2), (18, 7.9e-2), (21, 9.4e-2), (22, 0.115), (25, 0.127), (28, 7.7e-2), (29, 3.05e-2),
          (30, 1.45e-2), (33, 8.8e-2), (40, 8.2e-2), (42, 0.12), (44, 6e-2), (45, 4.2e-2), (46, 0.1), (51, 3.5e-2),
          (54, 0.133), (55, 7.4e-2), (59, 0.1), (60, 0.136), (61, 1.66e-2), (62, 3.4e-2), (64, 1.76e-2), (65, 3.4e-2),
          (70, 3e-2), (71, 3e-2), (72, 1.19e-2), (79, 6.4e-2), (81, 9.1e-2), (82, 5.4e-2), (85, 2.8e-2), (86, 4e-2),
          (89, 3.8e-2), (90, 8.6e-2), (94, 0.12), (95, 0.102), (99, 0.126), (100, 6.5e-2), (101, 3e-2), (104, 0.11),
          (109, 8.4e-2), (112, 4e-2), (114, 2.2e-2), (116, 9.1e-2), (117, 3e-2), (119, 2.15e-2), (122, 3.1e-2), (123, 8.8e-2),
          (125, 4.4e-2), (128, 5.4e-2), (131, 6e-2), (133, 2.3e-2), (134, 5.2e-2), (138, 8.8e-3)]
f_trend = [(0, 5.4e-2), (4, 1.36e-3), (10, 7e-4), (42, 6.6e-4), (74, 6.3e-4), (139, 6.3e-4)]
f_loess = [(0, 1.93e-2), (5, 1.75e-2), (9, 1.7e-2), (13, 1.8e-2), (18, 1.8e-2), (22, 1.6e-2), (26, 1.45e-2), (30, 1.08e-2),
           (33, 7.2e-3), (36, 5.6e-3), (40, 6.8e-3), (44, 1.02e-2), (48, 1.25e-2), (53, 1.15e-2), (57, 1.32e-2), (60, 1.08e-2),
           (63, 8.8e-3), (67, 7.5e-3), (70, 5.1e-3), (72, 4.4e-3), (75, 5.4e-3), (79, 6.7e-3), (82, 7.7e-3), (86, 1.08e-2),
           (91, 1.02e-2), (94, 1.15e-2), (97, 1.25e-2), (102, 9e-3), (106, 6.4e-3), (109, 5.7e-3), (112, 7.7e-3), (117, 1.2e-2),
           (121, 1.66e-2), (125, 1.8e-2), (129, 1.93e-2), (133, 1.08e-2), (139, 3.85e-3)]

# (g) VGG-16 / AT / Op 7
g_hot = [(0, 5.1e-3), (4, 1.6e-3), (6, 1.27e-3), (8, 5.2e-3), (11, 5.2e-3), (13, 4.1e-3), (16, 6.7e-3), (18, 3.3e-3),
         (21, 7e-3), (24, 7.5e-3), (27, 7e-3), (30, 5.2e-3), (33, 7e-3), (36, 5.3e-3), (38, 7e-3), (39, 4.1e-3),
         (41, 7.9e-3), (44, 5.3e-3), (48, 5.6e-3), (49, 5.5e-3), (51, 4.1e-3), (53, 5.6e-3), (54, 3.7e-3), (56, 3.1e-3),
         (58, 5.6e-3), (61, 2.6e-3), (63, 3.9e-3), (65, 5.6e-3), (68, 2.1e-3), (70, 3.9e-3), (72, 2.6e-3), (74, 2.05e-3),
         (77, 2.1e-3), (79, 2e-3), (82, 2e-3), (85, 2.6e-3), (87, 3.1e-3), (89, 2.6e-3), (92, 2.2e-3), (95, 1.8e-3),
         (99, 1.0e-3), (101, 2.3e-3), (102, 1.8e-3), (105, 2.1e-3), (107, 2.3e-3), (110, 2e-3), (113, 2.2e-3), (116, 1.24e-3),
         (119, 2.1e-3), (121, 1.7e-3), (124, 1.8e-3), (128, 8.7e-4), (131, 1.0e-3), (133, 1e-3), (136, 1.03e-3), (138, 1.6e-3),
         (140, 1.15e-3), (142, 1.2e-3), (143, 1.4e-3), (145, 1.15e-3), (147, 1.6e-3), (150, 1.4e-3), (153, 1.35e-3), (155, 1.2e-3),
         (158, 1.1e-3), (160, 1.37e-3), (162, 8.3e-4), (165, 1.0e-3), (167, 8.7e-4), (169, 1.15e-3), (171, 1.3e-3), (174, 1.1e-3),
         (176, 8.7e-4), (178, 1.2e-3), (181, 9e-4), (183, 1.1e-3), (185, 1.3e-3), (187, 1e-3), (190, 1.15e-3), (192, 9.5e-4),
         (195, 8.7e-4), (197, 1.1e-3), (200, 9e-4), (202, 1e-3), (205, 8.7e-4), (208, 1.1e-3), (210, 9.5e-4), (212, 1.15e-3),
         (215, 8.7e-4), (218, 9e-4), (220, 9e-4), (223, 6.3e-4), (225, 9.5e-4), (228, 1.1e-3), (231, 9.5e-4), (233, 1e-3),
         (236, 8.7e-4), (238, 9.5e-4), (241, 7.9e-4), (243, 9e-4), (246, 7.1e-4), (249, 6.3e-4), (251, 7.5e-4), (254, 6.7e-4),
         (256, 7.9e-4), (259, 7.1e-4), (261, 7.5e-4), (264, 8.3e-4), (267, 6.7e-4), (269, 7.9e-4), (272, 6.7e-4), (274, 7.5e-4),
         (277, 7.1e-4), (279, 8.7e-4), (282, 6.7e-4), (284, 7.9e-4), (287, 8.7e-4), (290, 8.3e-4), (292, 9e-4), (295, 7.9e-4),
         (297, 8.7e-4), (300, 9.5e-4), (302, 8.3e-4), (305, 6.7e-4), (307, 7.9e-4), (310, 9e-4), (313, 7.1e-4), (315, 8.3e-4),
         (318, 9e-4), (320, 6.7e-4), (323, 7.5e-4), (325, 8.7e-4), (328, 9.5e-4), (331, 7.9e-4), (333, 8.7e-4), (336, 9.5e-4),
         (338, 9e-4), (341, 8.7e-4), (343, 7.9e-4), (346, 7.1e-4), (349, 6.7e-4), (351, 6.7e-4), (354, 7.9e-4), (356, 8.7e-4),
         (359, 7.5e-4), (362, 6.7e-4), (364, 8.3e-4), (366, 5.7e-4), (369, 5.2e-4), (372, 6.3e-4), (374, 6.7e-4), (377, 6e-4),
         (379, 6.5e-4), (382, 6.3e-4), (385, 5.7e-4), (387, 6.7e-4), (390, 6e-4), (392, 6.3e-4), (395, 7.1e-4), (397, 5.7e-4),
         (400, 6.7e-4), (403, 6e-4), (405, 5.4e-4), (407, 5.7e-4), (410, 5.2e-4), (413, 5.4e-4), (415, 4.8e-4), (418, 5.2e-4),
         (420, 4.8e-4)]
g_cold = [(1, 1.02e-2), (2, 1.8e-2), (5, 2.2e-2), (8, 1.45e-2), (11, 1.1e-2), (13, 1.35e-2), (18, 8.6e-3), (20, 1.1e-2),
          (23, 1.5e-2), (24, 1.05e-2), (27, 1.4e-2), (29, 1.1e-2), (30, 8.9e-3), (35, 1.3e-2), (37, 1.05e-2), (40, 1.25e-2),
          (42, 1.15e-2), (46, 1.1e-2), (48, 1.6e-2), (51, 8.9e-3), (53, 1.1e-2), (58, 3.1e-2), (61, 1.3e-2), (62, 3.2e-2),
          (63, 3.4e-2), (65, 1.6e-2), (66, 1.1e-2), (78, 4.8e-3), (82, 4.6e-3), (85, 4.2e-3), (89, 4.5e-3), (93, 3.6e-3),
          (95, 4.5e-3), (99, 4.6e-3), (106, 2.6e-3), (109, 2.75e-3), (112, 3.2e-3), (116, 3.4e-3), (119, 3.8e-3), (123, 4.8e-3),
          (126, 3.2e-3), (128, 3.8e-3), (130, 2.9e-3), (140, 2.2e-3), (148, 6.4e-3), (154, 4.8e-3), (157, 2.1e-3), (164, 2.05e-3),
          (169, 3.4e-3), (171, 8.4e-3), (174, 4.8e-3), (176, 2.05e-3), (184, 3.4e-3), (186, 2.3e-3), (188, 1.9e-3), (190, 1.35e-3),
          (198, 2.4e-3), (201, 1.1e-3), (208, 2.3e-3), (212, 1.1e-3), (220, 1.6e-3), (230, 3.5e-3), (234, 2e-3), (241, 1.2e-3),
          (244, 1.55e-3), (249, 1.65e-3), (253, 1.1e-3), (256, 9.3e-4), (273, 1e-3), (280, 1.1e-3), (287, 9.8e-4), (294, 1.1e-3),
          (301, 1.15e-3), (304, 9.8e-4), (311, 1.6e-3), (316, 1.6e-3), (323, 1.6e-3), (325, 2.5e-3), (333, 2.5e-3), (340, 1.6e-3),
          (342, 1.5e-3), (346, 2.5e-3), (353, 2.5e-3), (355, 2e-3), (359, 1.2e-3), (366, 1.5e-3), (368, 2.5e-3), (369, 1.15e-3),
          (376, 8.8e-4), (383, 7.4e-4), (386, 7.8e-4), (391, 7.2e-4), (396, 8.8e-4), (399, 7e-4), (402, 7.8e-4), (404, 6.3e-4),
          (407, 6.7e-4), (411, 8.6e-4), (413, 7.4e-4), (415, 6e-4), (418, 6.7e-4), (420, 5.4e-4), (421, 5.2e-4), (422, 1.1e-3)]
g_trend = [(0, 5.1e-3), (3, 1.6e-3), (6, 1.27e-3), (99, 1.0e-3), (128, 8.7e-4), (148, 8.7e-4), (161, 6.4e-4), (256, 6e-4),
           (373, 4.9e-4), (423, 4.7e-4)]
g_loess = [(0, 6.1e-3), (17, 7.1e-3), (30, 7.7e-3), (44, 8.1e-3), (54, 7.5e-3), (65, 5.1e-3), (78, 3.5e-3), (89, 2.6e-3),
           (102, 2.5e-3), (119, 2.1e-3), (133, 1.7e-3), (147, 1.5e-3), (167, 1.5e-3), (184, 1.3e-3), (202, 1.1e-3),
           (222, 1.1e-3), (239, 1.03e-3), (256, 8.5e-4), (273, 8.6e-4), (290, 9e-4), (308, 9.6e-4), (325, 1.1e-3),
           (338, 1.1e-3), (352, 1.05e-3), (366, 8.6e-4), (380, 7.4e-4), (393, 6.6e-4), (407, 5.6e-4), (423, 4.7e-4)]

# (h) VGG-16 / GR / Op 7
h_hot = [(1, 2.3e-2), (3, 2.05e-2), (5, 2e-2), (7, 1.9e-2), (9, 1.85e-2), (11, 1.8e-2), (13, 1.75e-2), (15, 1.7e-2),
         (17, 1.6e-2), (19, 1.55e-2), (21, 1.5e-2), (23, 1.45e-2), (25, 1.4e-2), (27, 1.6e-2), (29, 1.4e-2), (31, 1.7e-2),
         (33, 1.3e-2), (35, 1.55e-2), (37, 1.75e-2), (39, 1.65e-2), (41, 1.55e-2), (43, 1.8e-2), (45, 1.6e-2), (47, 1.4e-2),
         (49, 1.7e-2), (51, 1.75e-2), (53, 1.65e-2), (55, 1.5e-2), (57, 1.6e-2), (59, 1.45e-2), (61, 1.5e-2), (63, 1.4e-2),
         (65, 1.55e-2), (67, 1.5e-2), (69, 1.6e-2), (71, 1.45e-2), (73, 1.55e-2), (75, 1.7e-2), (77, 1.6e-2), (79, 1.75e-2),
         (81, 1.55e-2), (83, 1.7e-2), (85, 1.6e-2), (87, 1.5e-2), (89, 1.65e-2), (91, 1.45e-2), (93, 1.55e-2), (95, 1.7e-2),
         (97, 1.6e-2), (99, 1.55e-2), (101, 1.65e-2), (103, 1.6e-2), (105, 1.7e-2), (107, 1.55e-2), (109, 1.75e-2), (111, 1.6e-2),
         (113, 1.65e-2), (115, 1.7e-2), (117, 1.55e-2), (119, 1.65e-2), (121, 1.5e-2), (123, 1.6e-2), (125, 1.7e-2), (127, 1.75e-2),
         (129, 1.65e-2), (131, 1.55e-2), (133, 1.7e-2), (135, 1.6e-2), (137, 1.75e-2), (139, 1.65e-2), (141, 1.8e-2), (143, 1.7e-2),
         (145, 1.85e-2), (147, 1.75e-2), (149, 1.6e-2), (151, 1.7e-2), (153, 1.55e-2), (155, 1.5e-2), (157, 1.45e-2), (159, 1.4e-2),
         (161, 1.35e-2), (163, 1.3e-2), (165, 1.2e-2), (167, 1.0e-2), (169, 9.5e-3), (171, 9e-3), (173, 8.5e-3), (175, 9e-3),
         (177, 8e-3), (179, 7.5e-3), (181, 8.5e-3), (183, 7e-3), (185, 7.5e-3), (187, 6.5e-3), (189, 7.8e-3), (191, 6.2e-3),
         (193, 7e-3), (195, 8e-3), (197, 7.5e-3), (199, 8.5e-3), (201, 8e-3), (203, 7.3e-3), (205, 8.8e-3), (207, 9e-3),
         (209, 8.5e-3), (211, 9.2e-3), (213, 8.8e-3), (215, 9e-3), (217, 7.5e-3), (219, 8.3e-3), (221, 7e-3), (223, 6.7e-3),
         (225, 7.5e-3), (227, 6.8e-3), (229, 7.2e-3), (231, 6.4e-3), (233, 7.8e-3), (235, 6.2e-3), (237, 6.8e-3), (239, 8.3e-3),
         (241, 7.6e-3), (243, 8.8e-3), (245, 8e-3), (247, 8.7e-3), (249, 7.7e-3), (251, 8.4e-3), (253, 7.2e-3), (255, 6.7e-3),
         (257, 7.5e-3), (259, 6.9e-3), (261, 6.3e-3), (263, 6e-3), (265, 6.5e-3), (267, 6.1e-3), (269, 7.4e-3), (271, 8.6e-3),
         (273, 7.8e-3), (275, 8.4e-3), (277, 7.3e-3), (279, 6.8e-3), (281, 7.6e-3), (283, 7e-3), (285, 8e-3), (287, 6.5e-3),
         (289, 8.5e-3), (291, 9e-3), (293, 8.2e-3), (295, 9.5e-3), (297, 7.8e-3), (299, 8.8e-3), (301, 9.2e-3), (303, 7.5e-3),
         (305, 8.6e-3), (307, 9e-3), (309, 7.8e-3), (311, 8.5e-3), (313, 9.3e-3), (315, 9.8e-3), (317, 9.5e-3), (319, 8.8e-3),
         (321, 9.5e-3), (323, 8.4e-3), (325, 7.6e-3), (327, 6.8e-3), (329, 6.2e-3), (331, 5.8e-3), (333, 4.5e-3), (335, 5.2e-3),
         (337, 4.8e-3), (339, 4.2e-3), (341, 3.8e-3), (343, 3.5e-3), (345, 3.6e-3), (347, 3.2e-3), (349, 3.4e-3), (351, 3.1e-3),
         (353, 3.6e-3), (355, 3.3e-3), (357, 3.1e-3)]
h_cold = [(3, 2.9e-2), (6, 3e-2), (6, 2.3e-2), (11, 2.7e-2), (16, 2.55e-2), (38, 2.9e-2), (39, 2.2e-2), (40, 2.05e-2),
          (41, 2.3e-2), (42, 3e-2), (43, 2.05e-2), (44, 2.3e-2), (48, 2.7e-2), (50, 1.75e-2), (74, 2.9e-2), (74, 2.05e-2),
          (76, 2.95e-2), (77, 2.3e-2), (78, 2.3e-2), (80, 2.05e-2), (81, 1.9e-2), (100, 1.75e-2), (102, 2.9e-2), (104, 2.3e-2),
          (105, 2.05e-2), (106, 2.3e-2), (108, 1.9e-2), (118, 2.05e-2), (119, 2.2e-2), (120, 1.9e-2), (125, 1.9e-2), (127, 2.3e-2),
          (129, 2.2e-2), (133, 2e-2), (137, 2.1e-2), (138, 2.3e-2), (141, 2.3e-2), (144, 2.3e-2), (147, 2.4e-2), (148, 2.5e-2),
          (151, 2.3e-2), (154, 3e-2), (156, 3.2e-2), (157, 2.3e-2), (158, 2.65e-2), (159, 2.3e-2), (161, 2.2e-2), (162, 1.7e-2),
          (169, 1.45e-2), (172, 1.25e-2), (176, 1.3e-2), (178, 1.15e-2), (200, 2.4e-2), (201, 1.55e-2), (203, 1.55e-2), (204, 1.25e-2),
          (204, 2.2e-2), (205, 1.4e-2), (208, 1.35e-2), (206, 1.05e-2), (210, 1.03e-2), (214, 1.05e-2), (234, 2.4e-2), (235, 1.6e-2),
          (236, 1.25e-2), (237, 1.55e-2), (239, 1.15e-2), (241, 1.4e-2), (242, 1.05e-2), (247, 1.05e-2), (262, 1.6e-2), (263, 1.25e-2),
          (265, 1.6e-2), (265, 1.28e-2), (268, 1.05e-2), (268, 9e-3), (273, 1.4e-2), (285, 1.2e-2), (286, 1.6e-2), (287, 1.28e-2),
          (290, 2e-2), (292, 1.25e-2), (301, 1.5e-2), (304, 2.2e-2), (306, 1.4e-2), (310, 1.5e-2), (311, 1.7e-2), (312, 1.75e-2),
          (315, 2.6e-2), (320, 2.05e-2), (323, 1.25e-2), (326, 1.1e-2), (332, 6.8e-3), (338, 7.8e-3), (354, 2.6e-2), (356, 1.45e-2),
          (356, 9.7e-3), (357, 8.7e-3), (357, 8.2e-3)]
h_trend = [(0, 2.9e-2), (3, 2.1e-2), (9, 1.87e-2), (15, 1.67e-2), (20, 1.4e-2), (26, 1.3e-2), (31, 1.25e-2), (161, 1.25e-2),
           (162, 1.16e-2), (165, 1.05e-2), (167, 9.1e-3), (172, 8.3e-3), (178, 7.6e-3), (182, 6.4e-3), (189, 5.9e-3),
           (328, 5.8e-3), (329, 3.85e-3), (332, 3.4e-3), (340, 3e-3), (357, 3e-3)]
h_loess = [(0, 2.3e-2), (12, 2e-2), (23, 1.74e-2), (37, 1.76e-2), (51, 1.76e-2), (65, 1.74e-2), (79, 1.7e-2), (95, 1.7e-2),
           (112, 1.76e-2), (129, 1.8e-2), (143, 1.92e-2), (154, 1.8e-2), (162, 1.55e-2), (171, 1.25e-2), (179, 1e-2),
           (187, 8.9e-3), (201, 9e-3), (218, 9.3e-3), (232, 8.9e-3), (246, 8.9e-3), (260, 8.8e-3), (274, 9.3e-3),
           (287, 9.8e-3), (296, 1.05e-2), (301, 1.1e-2), (310, 1.13e-2), (318, 9.6e-3), (326, 7.2e-3), (332, 5.8e-3),
           (340, 5.3e-3), (349, 4.8e-3), (357, 4.1e-3)]

titles = ["(a) ResNet-18 / GA / Op 6", "(b) ResNet-18 / RD / Op 6",
          "(c) ResNet-18 / AT / Op 7", "(d) ResNet-18 / GR / Op 7",
          "(e) VGG-16 / GA / Op 6", "(f) VGG-16 / RD / Op 6",
          "(g) VGG-16 / AT / Op 7", "(h) VGG-16 / GR / Op 7"]
last_id = [390, 470, 463, 495, 341, 139, 423, 357]

series = [(a_hot, a_cold, a_trend, a_loess), (b_hot, b_cold, b_trend, b_loess),
          (c_hot, c_cold, c_trend, c_loess), (d_hot, d_cold, d_trend, d_loess),
          (e_hot, e_cold, e_trend, e_loess), (f_hot, f_cold, f_trend, f_loess),
          (g_hot, g_cold, g_trend, g_loess), (h_hot, h_cold, h_trend, h_loess)]

# limites del eje y y techo de la zona gris
y_lims = [(2.5e-5, 0.5), (1.6e-5, 0.47), (1.95e-5, 0.39), (1.5e-4, 0.28),
          (1.7e-4, 0.35), (4.7e-4, 0.3), (3.5e-4, 0.17), (2.5e-3, 0.158)]
gray_top = [0.34, 0.31, 0.26, 0.21, 0.26, 0.235, 0.135, 0.133]

fig, axes = plt.subplots(4, 2, figsize=(11.67, 10.19), dpi=100)
fig.subplots_adjust(left=0.0625, right=0.9966, top=0.908, bottom=0.047, hspace=0.223, wspace=0.103)

for ax, (hot, cold, trend, loess), title, n, (y0, y1), gtop in zip(
        axes.flat, series, titles, last_id, y_lims, gray_top):
    ax.set_yscale('log')
    ax.fill_between([0, n], [y0, y0], [gtop, gtop], color='gray', alpha=0.04, lw=0)
    lx, ly = zip(*loess)
    ax.fill_between(lx, y0, ly, color='green', alpha=0.13, lw=0)

    hx, hy = zip(*hot)
    ax.scatter(hx, hy, s=12, color='green', zorder=3, linewidths=0)
    cx, cy = zip(*cold)
    ax.scatter(cx, cy, s=12, marker='+', color='red', linewidths=1, zorder=3)

    tx, ty = zip(*trend)
    ax.plot(tx, ty, color='black', lw=2, zorder=4)
    ax.plot(lx, ly, color='blue', lw=2.3, zorder=5)

    ax.set_xlim(-0.05 * n, 1.05 * n)
    ax.set_ylim(y0, y1)
    ax.set_title(title, fontsize=11.5)
    ax.tick_params(labelsize=10)

fig.text(0.0172, 0.477, "Candidate Latency (ms)", rotation=90, fontsize=14.5, ha='center', va='center')
fig.text(0.531, 0.0135, "Candidate ID", fontsize=14.5, ha='center', va='center')

handles = [
    Line2D([], [], marker='o', ls='', color='green', markersize=9, label='Hot Candidate'),
    Line2D([], [], marker='+', ls='', color='red', markersize=12, mew=1, label='Cold Candidate'),
    Line2D([], [], color='black', lw=3, label='Next-minimum-candidate Trend'),
    Line2D([], [], color='blue', lw=3, label='LOESS Regression Fit'),
]
fig.legend(handles=handles, loc='center', ncol=2, mode='expand',
           bbox_to_anchor=(0.1345, 0.94, 0.774, 0.054), fontsize=12.5, borderaxespad=0)

plt.savefig("out.png", dpi=100)
